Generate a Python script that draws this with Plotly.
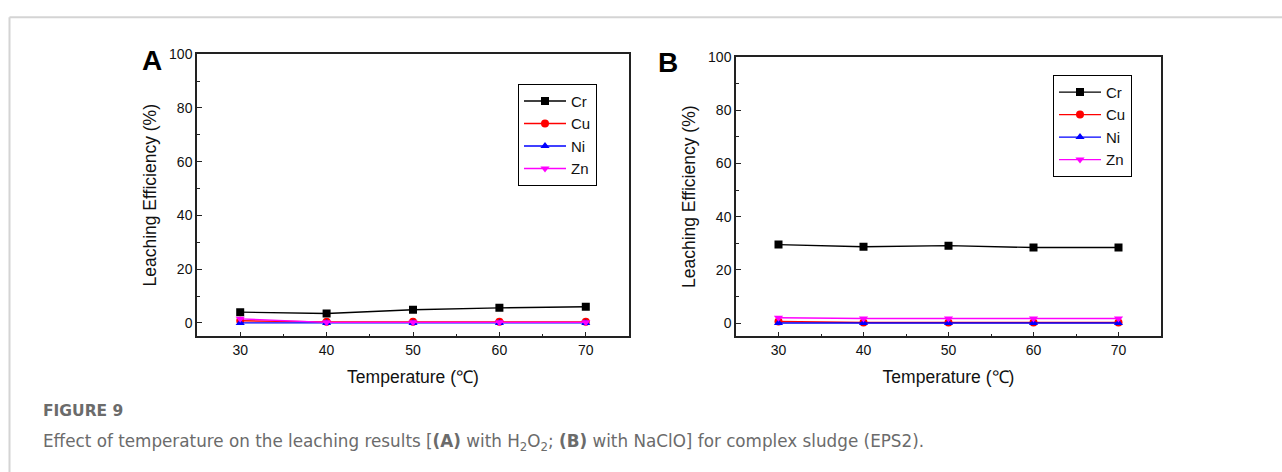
import plotly.graph_objects as go

temps = [30, 40, 50, 60, 70]
metals = ["Cr", "Cu", "Ni", "Zn"]

# Panel A (H2O2)
a_cr = [4.0, 3.5, 4.9, 5.6, 6.0]
a_cu = [0.8, 0.4, 0.4, 0.4, 0.4]
a_ni = [0.0, 0.0, 0.0, 0.0, 0.0]
a_zn = [1.5, 0.2, 0.2, 0.2, 0.2]

# Panel B (NaClO)
b_cr = [29.5, 28.7, 29.1, 28.4, 28.4]
b_cu = [0.6, 0.2, 0.2, 0.2, 0.2]
b_ni = [0.0, 0.0, 0.0, 0.0, 0.0]
b_zn = [2.0, 1.7, 1.7, 1.7, 1.7]

y_ticks = [0, 20, 40, 60, 80, 100]
x_ticks = [30, 40, 50, 60, 70]

colors = {"Cr": "#000000", "Cu": "#ff0000", "Ni": "#0000ff", "Zn": "#ff00ff"}
symbols = {"Cr": "square", "Cu": "circle", "Ni": "triangle-up", "Zn": "triangle-down"}

W, H = 1282, 472

def px_x(p):
    return p / W

def px_y(p):
    return 1 - p / H

fig = go.Figure()

panelA = dict(zip(metals, [a_cr, a_cu, a_ni, a_zn]))
panelB = dict(zip(metals, [b_cr, b_cu, b_ni, b_zn]))

for m in metals:
    fig.add_trace(go.Scatter(
        x=temps, y=panelA[m], name=m, mode="lines+markers",
        line=dict(color=colors[m], width=1.4),
        marker=dict(symbol=symbols[m], size=8, color=colors[m]),
        xaxis="x", yaxis="y", legend="legend"))
for m in metals:
    fig.add_trace(go.Scatter(
        x=temps, y=panelB[m], name=m, mode="lines+markers",
        line=dict(color=colors[m], width=1.4),
        marker=dict(symbol=symbols[m], size=8, color=colors[m]),
        xaxis="x2", yaxis="y2", legend="legend2"))

axis_font = dict(family="Liberation Sans, Arial, sans-serif", size=14, color="#111")
title_font = dict(family="Liberation Sans, Arial, sans-serif", size=17.5, color="#111")

def xaxis(domain, anchor):
    return dict(domain=domain, anchor=anchor, range=[25, 75], tickvals=x_ticks,
                ticks="inside", ticklen=5, tickwidth=1, tickcolor="#222",
                minor=dict(ticks="inside", ticklen=3, dtick=5, tick0=25, tickcolor="#222"),
                showline=True, linecolor="#222", linewidth=1.5, mirror=True,
                showgrid=False, zeroline=False, tickfont=axis_font,
                title=dict(text="Temperature (℃)", font=title_font, standoff=14))

def yaxis(domain, anchor):
    return dict(domain=domain, anchor=anchor, range=[-5, 100], tickvals=y_ticks,
                ticks="inside", ticklen=5, tickwidth=1, tickcolor="#222",
                minor=dict(ticks="inside", ticklen=3, dtick=10, tick0=0, tickcolor="#222"),
                showline=True, linecolor="#222", linewidth=1.5, mirror=True,
                showgrid=False, zeroline=False, tickfont=axis_font,
                title=dict(text="Leaching Efficiency (%)", font=title_font, standoff=8))

legend_style = dict(bordercolor="#000", borderwidth=1, bgcolor="rgba(255,255,255,0)",
                    font=dict(family="Liberation Sans, Arial, sans-serif", size=15, color="#111"),
                    xanchor="left", yanchor="top", tracegroupgap=0, itemwidth=42)

fig.update_layout(
    width=W, height=H,
    margin=dict(l=0, r=0, t=0, b=0),
    paper_bgcolor="white", plot_bgcolor="white",
    xaxis=xaxis([px_x(197), px_x(629)], "y"),
    yaxis=yaxis([px_y(334), px_y(47)], "x"),
    xaxis2=xaxis([px_x(736), px_x(1161)], "y2"),
    yaxis2=yaxis([px_y(334), px_y(50)], "x2"),
    legend=dict(x=px_x(518), y=px_y(77), **legend_style),
    legend2=dict(x=px_x(1053), y=px_y(68), **legend_style),
    showlegend=True,
)

# panel letters
for letter, xp, yp in [("A", 152, 53), ("B", 668, 55)]:
    fig.add_annotation(text="<b>" + letter + "</b>", x=px_x(xp), y=px_y(yp),
                       xref="paper", yref="paper", showarrow=False,
                       xanchor="center", yanchor="middle",
                       font=dict(family="Liberation Sans, Arial, sans-serif", size=28, color="#000"))

# caption
fig.add_annotation(text="<b>FIGURE 9</b>", x=px_x(41), y=px_y(410), xref="paper", yref="paper",
                   showarrow=False, xanchor="left", yanchor="middle",
                   font=dict(family="DejaVu Sans, sans-serif", size=15.5, color="#6b6b6b"))
fig.add_annotation(text="Effect of temperature on the leaching results [<b>(A)</b> with H<sub>2</sub>O<sub>2</sub>; "
                        "<b>(B)</b> with NaClO] for complex sludge (EPS2).",
                   x=px_x(41), y=px_y(442), xref="paper", yref="paper",
                   showarrow=False, xanchor="left", yanchor="middle",
                   font=dict(family="DejaVu Sans, sans-serif", size=16.8, color="#6b6b6b"))

# frame lines
fig.add_shape(type="line", xref="paper", yref="paper", x0=px_x(9.5), x1=1, y0=px_y(9.5), y1=px_y(9.5),
              line=dict(color="#d4d4d4", width=2))
fig.add_shape(type="line", xref="paper", yref="paper", x0=px_x(9.5), x1=px_x(9.5), y0=px_y(9.5), y1=0,
              line=dict(color="#d4d4d4", width=2))

fig.write_html("out.html", config={"displayModeBar": False},
               post_script="document.body.style.margin='0';document.body.style.padding='0';")
